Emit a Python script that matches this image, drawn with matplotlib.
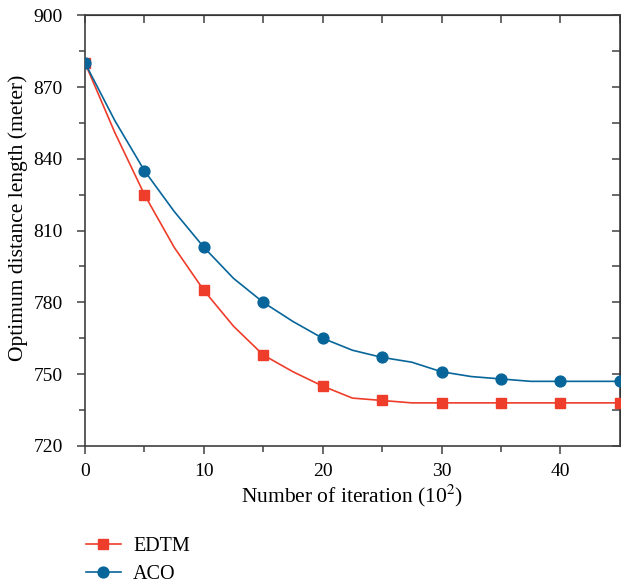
import matplotlib
matplotlib.use("Agg")
import matplotlib.pyplot as plt

# iterations (x 10^2), sampled every 2.5; markers drawn every 5
iterations = [0, 2.5, 5, 7.5, 10, 12.5, 15, 17.5, 20, 22.5, 25, 27.5, 30, 32.5, 35, 37.5, 40, 42.5, 45]
edtm = [880, 851, 825, 803, 785, 770, 758, 751, 745, 740, 739, 738, 738, 738, 738, 738, 738, 738, 738]
aco = [880, 856, 835, 818, 803, 790, 780, 772, 765, 760, 757, 755, 751, 749, 748, 747, 747, 747, 747]

x_ticks = [0, 10, 20, 30, 40]
y_ticks = [720, 750, 780, 810, 840, 870, 900]

plt.rcParams["font.family"] = ["Liberation Serif", "DejaVu Serif"]
plt.rcParams["mathtext.fontset"] = "stix"

red = "#EE3D2A"
blue = "#07659A"
spine = "#404040"

fig = plt.figure(figsize=(6.21, 5.86), dpi=100)
ax = fig.add_axes([0.137, 0.239, 0.861, 0.735])

ax.plot(iterations, edtm, color=red, lw=1.2, marker="s", ms=6.8, markevery=2,
        label="EDTM", zorder=3)
ax.plot(iterations, aco, color=blue, lw=1.2, marker="o", ms=7.8, markevery=2,
        label="ACO", zorder=4)

ax.set_xlim(0, 45)
ax.set_ylim(720, 900)
ax.set_xticks(x_ticks)
ax.set_xticks([5, 15, 25, 35], minor=True)
ax.set_yticks(y_ticks)
ax.set_yticks([735, 765, 795, 825, 855, 885], minor=True)

for s in ax.spines.values():
    s.set_color(spine)
    s.set_linewidth(1.2)

ax.tick_params(which="major", direction="out", length=6, width=1.1, color=spine,
               labelsize=14)
ax.tick_params(axis="y", which="major", pad=10)
ax.tick_params(axis="x", which="major", pad=6)
ax.tick_params(which="minor", direction="out", length=4, width=1.1, color=spine)

# top / right ticks point inward
top = ax.secondary_xaxis("top")
top.set_xticks([0, 5, 10, 15, 20, 25, 30, 35, 40, 45])
top.tick_params(direction="in", length=6, width=1.1, color=spine, labeltop=False)
right = ax.secondary_yaxis("right")
right.set_yticks([720, 735, 750, 765, 780, 795, 810, 825, 840, 855, 870, 885, 900])
right.tick_params(direction="in", length=6, width=1.1, color=spine, labelright=False)

ax.set_xlabel("Number of iteration (10$^2$)", fontsize=15.5, labelpad=2)
ax.set_ylabel("Optimum distance length (meter)", fontsize=15.5)
ax.yaxis.set_label_coords(-0.107, 0.53)

fig.legend(loc="upper left", bbox_to_anchor=(0.125, 0.097), frameon=False,
           fontsize=14.5, handlelength=1.75, handletextpad=0.6, labelspacing=0.45,
           borderaxespad=0)

fig.savefig("out.png", dpi=100)
